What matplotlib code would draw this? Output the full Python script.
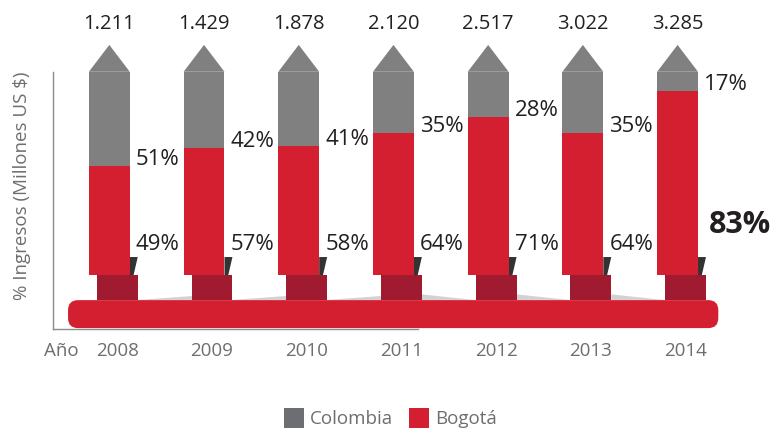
import matplotlib
matplotlib.use('Agg')
import matplotlib.pyplot as plt
from matplotlib.patches import FancyBboxPatch, Patch

years = ['2008', '2009', '2010', '2011', '2012', '2013', '2014']
totals = ['1.211', '1.429', '1.878', '2.120', '2.517', '3.022', '3.285']
colombia = [51, 42, 41, 35, 28, 35, 17]
bogota = [49, 57, 58, 64, 71, 64, 83]

RED = '#d31f30'
DARK = '#a01b2f'
GREY = '#808080'
LEG_GREY = '#6d6e71'
TXT = '#231f20'

plt.rcParams['font.family'] = ['Open Sans', 'DejaVu Sans']

fig = plt.figure(figsize=(7.77, 4.34), dpi=100)
ax = fig.add_axes([52.5 / 777, 105 / 434, (720 - 52.5) / 777, 257 / 434])
ax.set_xlim(-0.6, 6.448)
ax.set_ylim(-24.3, 91.4)

n = len(years)
x = list(range(n))
w = 0.432
shoulder, tip = 91.5, 103.6
off = 0.084      # pedestal shift to the right
base_top = -11.3

# pencil bars: red = Bogota share, grey = rest up to the shoulder, then the tip
red = ax.bar(x, bogota, w, color=RED, zorder=3)
grey = ax.bar(x, [shoulder - b for b in bogota], w, bottom=bogota, color=GREY, zorder=3)
for b in list(red) + list(grey):
    b.set_clip_on(False)
for i in x:
    ax.fill([i - w / 2, i + w / 2, i], [shoulder, shoulder, tip], color=GREY,
            zorder=3, clip_on=False, lw=0)

# pedestals + small dark wedge
ped = ax.bar([i + off for i in x], [base_top] * n, w, color=DARK, zorder=2)
for i in x:
    r = i + w / 2
    ax.fill([r, r + off, r + 0.04, r], [8.1, 8.1, 0, 0], color='#333333', zorder=2, lw=0)

# faint shadows on the base between pedestals
for i in range(n - 1):
    a = i + off + w / 2
    b = i + 1 + off - w / 2
    if i < 3:
        ax.fill([a, b, b], [base_top, base_top, base_top + 2.0], color='#d2d2d2', zorder=1, lw=0)
    else:
        ax.fill([a, a, b], [base_top, base_top + 2.6, base_top], color='#d2d2d2', zorder=1, lw=0)

# rounded base
base = FancyBboxPatch((-0.436, -23.9), n - 1 + 0.43 + 0.436, 23.9 + base_top,
                      boxstyle='round,pad=0,rounding_size=0.106',
                      mutation_aspect=42.5, fc=RED, ec='none', zorder=2, clip_on=False)
ax.add_patch(base)

# labels
for i in x:
    ax.text(i, 110.8, totals[i], ha='center', va='baseline', fontsize=14.5,
            color=TXT, clip_on=False)
    ax.text(i + w / 2 + 0.063, bogota[i] + 0.5, f'{colombia[i]}%', ha='left',
            va='baseline', fontsize=16, color=TXT)
    if i == n - 1:
        ax.text(i + w / 2 + 0.116, 18.9, f'{bogota[i]}%', ha='left', va='baseline',
                fontsize=22, fontweight='bold', color=TXT)
    else:
        ax.text(i + w / 2 + 0.063, 11.3, f'{bogota[i]}%', ha='left', va='baseline',
                fontsize=16, color=TXT)
    ax.text(i + off, -36.5, years[i], ha='center', va='baseline', fontsize=13.5,
            color=LEG_GREY, clip_on=False)
ax.text(-0.51, -36.5, 'Año', ha='center', va='baseline', fontsize=13.5,
        color=LEG_GREY, clip_on=False)

fig.text(22 / 777, 1 - 186 / 434, '% Ingresos (Millones US $)', rotation=90,
         ha='center', va='center', fontsize=13.5, color=LEG_GREY)

for s in ['top', 'right']:
    ax.spines[s].set_visible(False)
for s in ['left', 'bottom']:
    ax.spines[s].set_color('#8c8c8c')
    ax.spines[s].set_linewidth(1)
ax.spines['bottom'].set_bounds(-0.6, 3.26)
ax.set_xticks([])
ax.set_yticks([])

fig.legend(handles=[Patch(fc=LEG_GREY), Patch(fc=RED)], labels=['Colombia', 'Bogotá'],
           loc='center', bbox_to_anchor=(390 / 777, 1 - 418 / 434), ncol=2,
           frameon=False, fontsize=13.5, handlelength=1.07, handleheight=1.23,
           handletextpad=0.32, columnspacing=0.85, labelcolor=LEG_GREY)

fig.savefig('out.png', dpi=100)
